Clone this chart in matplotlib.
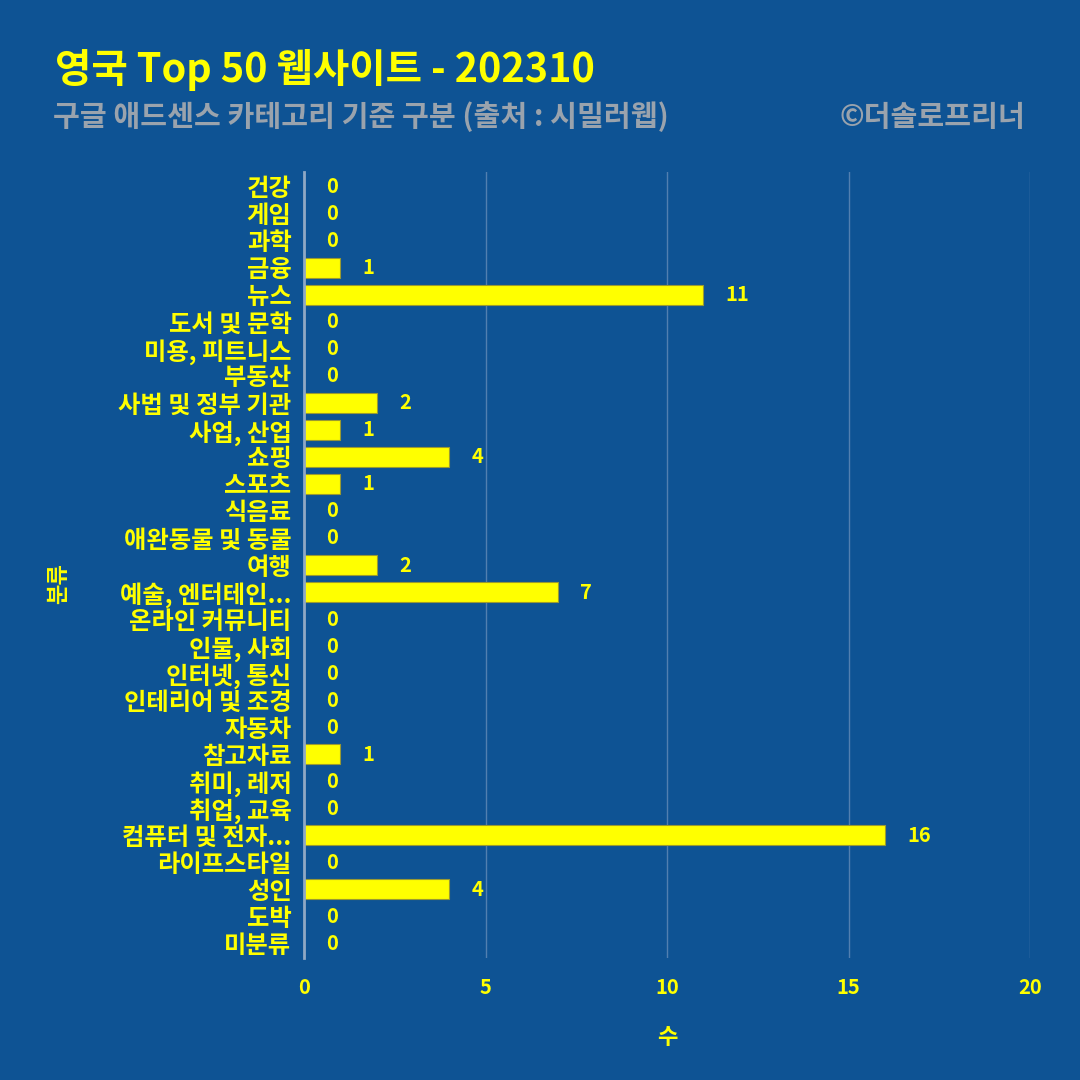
import matplotlib
matplotlib.use('Agg')
import matplotlib.pyplot as plt

plt.rcParams['font.family'] = ['Noto Sans CJK KR', 'DejaVu Sans']

categories = ['건강', '게임', '과학', '금융', '뉴스', '도서 및 문학', '미용, 피트니스', '부동산',
              '사법 및 정부 기관', '사업, 산업', '쇼핑', '스포츠', '식음료', '애완동물 및 동물',
              '여행', '예술, 엔터테인...', '온라인 커뮤니티', '인물, 사회', '인터넷, 통신',
              '인테리어 및 조경', '자동차', '참고자료', '취미, 레저', '취업, 교육',
              '컴퓨터 및 전자...', '라이프스타일', '성인', '도박', '미분류']
counts = [0, 0, 0, 1, 11, 0, 0, 0, 2, 1, 4, 1, 0, 0, 2, 7, 0, 0, 0, 0, 0, 1, 0, 0, 16, 0, 4, 0, 0]
x_ticks = [0, 5, 10, 15, 20]

bg = '#0E5394'
yellow = '#FFFF00'

fig = plt.figure(figsize=(10.8, 10.8), dpi=100, facecolor=bg)
ax = fig.add_axes([0.2815, 0.113, 0.6722, 0.7277], facecolor=bg)

ypos = list(range(len(categories)))
ax.barh(ypos, counts, height=0.74, color=yellow, edgecolor='#9a9a30', linewidth=0.8, zorder=3)

for y, v in zip(ypos, counts):
    ax.annotate(str(v), (v, y), xytext=(16, 0), textcoords='offset points',
                ha='left', va='center', color=yellow, fontsize=14.5, fontweight='bold', zorder=4)

ax.set_xlim(0, 20)
ax.set_ylim(len(categories) - 0.45, -0.55)
ax.set_xticks(x_ticks)
ax.set_yticks(ypos)
ax.set_yticklabels(categories)
ax.tick_params(axis='y', length=0, pad=9, labelsize=17.5, labelcolor=yellow)
ax.tick_params(axis='x', length=0, pad=14, labelsize=14.5, labelcolor=yellow)
for lab in ax.get_yticklabels() + ax.get_xticklabels():
    lab.set_fontweight('bold')

ax.grid(axis='x', color='#6f93bd', linewidth=1, alpha=0.7, zorder=0)
for s in ['top', 'right', 'bottom']:
    ax.spines[s].set_visible(False)
ax.spines['left'].set_color('#8fa8c4')
ax.spines['left'].set_linewidth(2)
ax.spines['left'].set_zorder(5)

ax.set_xlabel('수', color=yellow, fontsize=16, fontweight='bold', labelpad=20)
fig.text(0.054, 0.46, '분류', rotation=90, color=yellow, fontsize=16, fontweight='bold',
         ha='center', va='center')

fig.text(0.051, 0.935, '영국 Top 50 웹사이트 - 202310', color=yellow, fontsize=28.5,
         fontweight='bold', fontstyle='italic', ha='left', va='center')
fig.text(0.049, 0.892, '구글 애드센스 카테고리 기준 구분 (출처 : 시밀러웹)', color='#9aa3ad',
         fontsize=21, fontweight='bold', fontstyle='italic', ha='left', va='center')
fig.text(0.949, 0.892, '©더솔로프리너', color='#9aa3ad', fontsize=21, fontweight='bold',
         fontstyle='italic', ha='right', va='center')

fig.savefig('out.png', dpi=100, facecolor=bg)
